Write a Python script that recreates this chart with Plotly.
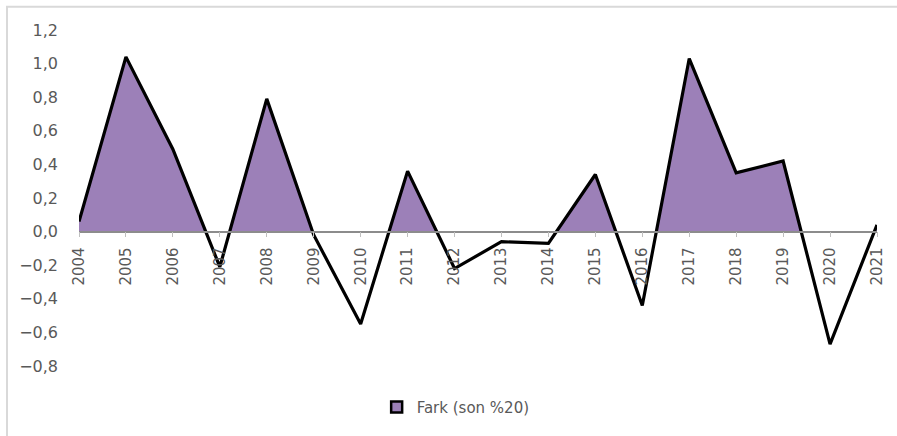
import plotly.graph_objects as go

years = list(range(2004, 2022))
values = [0.06, 1.04, 0.49, -0.21, 0.79, -0.02, -0.55, 0.36, -0.22,
          -0.06, -0.07, 0.34, -0.44, 1.03, 0.35, 0.42, -0.67, 0.04]
y_ticks = [-0.8, -0.6, -0.4, -0.2, 0.0, 0.2, 0.4, 0.6, 0.8, 1.0, 1.2]
series_name = "Fark (son %20)"

FILL = "#9c80b8"
GRAY_TXT = "#595959"

# positive-part polygon derived from the data (zero crossings computed)
px, py = [years[0]], [0.0]
for i in range(len(years)):
    x0, v0 = years[i], values[i]
    py.append(max(v0, 0.0)); px.append(x0)
    if i + 1 < len(years):
        x1, v1 = years[i + 1], values[i + 1]
        if (v0 > 0) != (v1 > 0) and v0 != v1:
            xc = x0 + (0 - v0) / (v1 - v0) * (x1 - x0)
            px.append(xc); py.append(0.0)
px.append(years[-1]); py.append(0.0)

fig = go.Figure()
fig.add_trace(go.Scatter(x=px, y=py, mode="lines", fill="toself",
                         fillcolor=FILL, line=dict(width=0),
                         showlegend=False, hoverinfo="skip"))
fig.add_trace(go.Scatter(x=years, y=values, mode="lines",
                         line=dict(color="black", width=3.2),
                         showlegend=False))
fig.add_trace(go.Scatter(x=[None], y=[None], mode="markers",
                         marker=dict(symbol="square", size=11, color=FILL,
                                     line=dict(color="black", width=2.5)),
                         name=series_name))

fig.update_layout(
    width=897, height=436,
    margin=dict(l=79, r=20, t=30, b=65),
    paper_bgcolor="white", plot_bgcolor="white",
    separators=", ",
    showlegend=True,
    legend=dict(orientation="h", x=0.472, xanchor="center", y=-0.123,
                yanchor="middle", font=dict(family="DejaVu Sans", size=15, color=GRAY_TXT),
                itemwidth=30),
    xaxis=dict(range=[2004, 2021], tickvals=years, ticktext=[str(y) for y in years],
               tickangle=-90, anchor="free", position=0.4,
               showline=True, linecolor="#8c8c8c", linewidth=1.5,
               ticks="outside", ticklen=5, tickcolor="#bfbfbf",
               ticklabelstandoff=4,
               showgrid=False, zeroline=False,
               tickfont=dict(family="DejaVu Sans", size=15, color=GRAY_TXT)),
    yaxis=dict(range=[-0.8, 1.2], tickvals=y_ticks, tickformat=".1f",
               showgrid=False, zeroline=False, showline=False,
               ticks="", ticklabelstandoff=20,
               tickfont=dict(family="DejaVu Sans", size=16, color=GRAY_TXT)),
    shapes=[dict(type="rect", xref="paper", yref="paper",
                 x0=(7 - 79) / 798, x1=1.1, y0=-0.3, y1=1 + (30 - 6.5) / 341,
                 line=dict(color="#d9d9d9", width=2), layer="below")],
)

fig.write_html("out.html", config={"displayModeBar": False},
               post_script="document.body.style.margin='0';document.body.style.overflow='hidden';")
